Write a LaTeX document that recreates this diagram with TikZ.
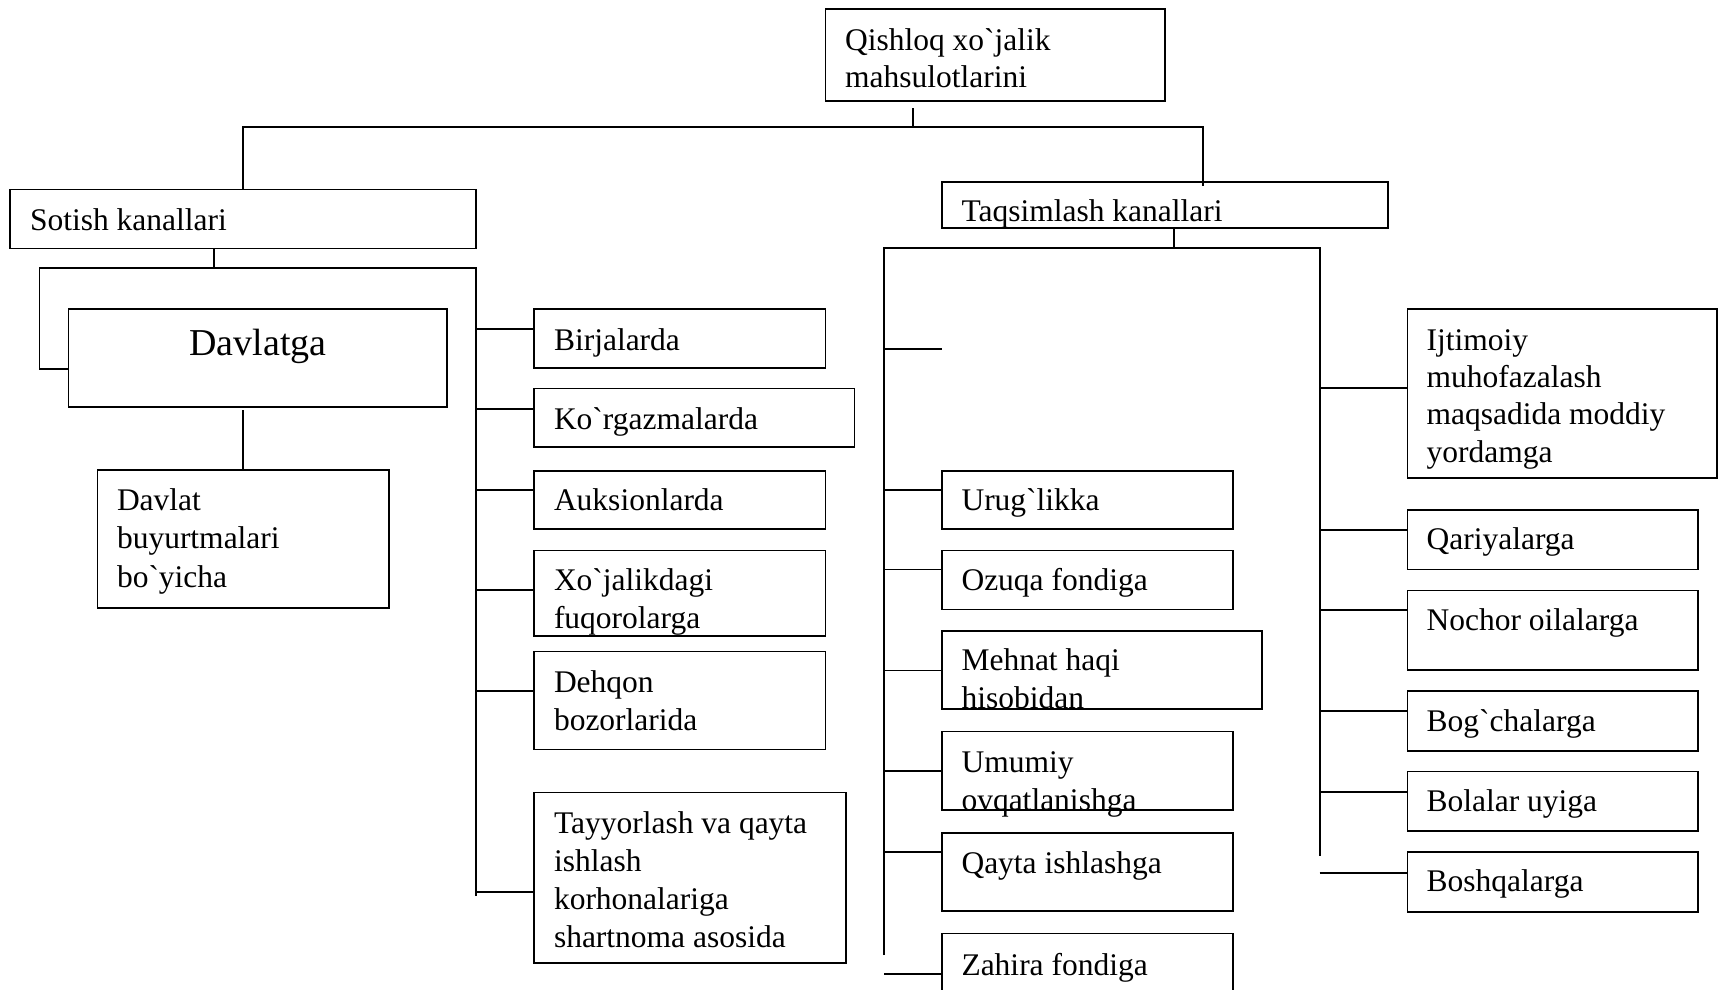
\documentclass[tikz,border=0pt]{standalone}
\usepackage{fontspec}
\setmainfont{Liberation Serif}[Ligatures=TeXOff]
\usetikzlibrary{calc}
\newcommand\mylines[1]{\begin{tabular}[t]{@{}l@{}}#1\end{tabular}}
\newcommand\stub[3]{\draw[link] (#1 |- 0,#3) -- (#2.west |- 0,#3);}
\begin{document}
\begin{tikzpicture}[x=1pt,y=-1pt,
  box/.style={draw, line width=1.6pt, inner sep=0pt, outer sep=0pt, anchor=north west},
  txt/.style={inner sep=0pt, outer sep=0pt, anchor=base west, font=\fontsize{31.5}{38.2}\selectfont},
  txtw/.style={inner sep=0pt, outer sep=0pt, anchor=base west, font=\fontsize{31.5}{37.4}\selectfont},
  link/.style={line width=1.8pt}]
\fill[white] (0,0) rectangle (1721,989);
\useasboundingbox (0,0) rectangle (1721,989);
\begin{scope}
\clip (0,0) rectangle (1721,989);
% boxes
\node[box, minimum width=339.6pt, minimum height=91.7pt] (top) at (825.4,9) {};
\node[box, minimum width=466pt, minimum height=59pt] (sotish) at (10,189.3) {};
\node[box, minimum width=446.3pt, minimum height=46.3pt] (taqs) at (941.7,181.7) {};
\node[box, minimum width=378.4pt, minimum height=98pt] (davlatga) at (68.6,309) {};
\node[box, minimum width=291.3pt, minimum height=137.9pt] (davlat) at (97.6,470.1) {};
\node[box, minimum width=291.4pt, minimum height=58.7pt] (birj) at (534,309) {};
\node[box, minimum width=320.5pt, minimum height=58.9pt] (korg) at (534,388.3) {};
\node[box, minimum width=291.4pt, minimum height=58.1pt] (auks) at (534,470.8) {};
\node[box, minimum width=291.4pt, minimum height=85.3pt] (xoj) at (534,550.6) {};
\node[box, minimum width=291.4pt, minimum height=98pt] (dehq) at (534,651.5) {};
\node[box, minimum width=311.7pt, minimum height=170.4pt] (tayy) at (534,792.3) {};
\node[box, minimum width=291.3pt, minimum height=58.1pt] (urug) at (941.7,470.8) {};
\node[box, minimum width=291.3pt, minimum height=58.8pt] (ozuq) at (941.7,550.6) {};
\node[box, minimum width=320.3pt, minimum height=78pt] (mehn) at (941.7,631.2) {};
\node[box, minimum width=291.3pt, minimum height=78.8pt] (umum) at (941.7,731.3) {};
\node[box, minimum width=291.3pt, minimum height=78pt] (qayt) at (941.7,832.7) {};
\node[box, minimum width=291.3pt, minimum height=90pt] (zahi) at (941.7,933.3) {};
\node[box, minimum width=309.6pt, minimum height=169.1pt] (ijti) at (1407.4,309) {};
\node[box, minimum width=290.6pt, minimum height=59.5pt] (qari) at (1407.4,510) {};
\node[box, minimum width=290.6pt, minimum height=79.1pt] (noch) at (1407.4,590.6) {};
\node[box, minimum width=290.6pt, minimum height=60.2pt] (bogc) at (1407.4,690.7) {};
\node[box, minimum width=290.6pt, minimum height=59.5pt] (bola) at (1407.4,771.3) {};
\node[box, minimum width=290.6pt, minimum height=59.9pt] (bosh) at (1407.4,851.8) {};
% texts
\node[txtw] (top-t) at (845,50) {\mylines{Qishloq xo`jalik\\mahsulotlarini}};
\node[txt] (sotish-t) at (30,230) {Sotish kanallari};
\node[txt] (taqs-t) at (961.5,221.7) {Taqsimlash kanallari};
\node[inner sep=0pt, anchor=base, font=\fontsize{38}{44}\selectfont] (davlatga-t) at (258,355) {Davlatga};
\node[txt] (davlat-t) at (117,510.7) {\mylines{Davlat\\buyurtmalari\\bo`yicha}};
\node[txt] (birj-t) at (554,350) {Birjalarda};
\node[txt] (korg-t) at (554,429) {Ko`rgazmalarda};
\node[txt] (auks-t) at (554,510.7) {Auksionlarda};
\node[txt] (xoj-t) at (554,590.6) {\mylines{Xo`jalikdagi\\fuqorolarga}};
\node[txt] (dehq-t) at (554,692.2) {\mylines{Dehqon\\bozorlarida}};
\node[txt] (tayy-t) at (554,833.3) {\mylines{Tayyorlash va qayta\\ishlash\\korhonalariga\\shartnoma asosida}};
\node[txt] (urug-t) at (961.5,510) {Urug`likka};
\node[txt] (ozuq-t) at (961.5,590.6) {Ozuqa fondiga};
\node[txt] (mehn-t) at (961.5,670.4) {\mylines{Mehnat haqi\\hisobidan}};
\node[txt] (umum-t) at (961.5,772) {\mylines{Umumiy\\ovqatlanishga}};
\node[txt] (qayt-t) at (961.5,873.3) {Qayta ishlashga};
\node[txt] (zahi-t) at (961.5,975) {Zahira fondiga};
\node[txtw] (ijti-t) at (1426.6,350) {\mylines{Ijtimoiy\\muhofazalash\\maqsadida moddiy\\yordamga}};
\node[txt] (qari-t) at (1426.6,549.9) {Qariyalarga};
\node[txt] (noch-t) at (1426.6,630.5) {Nochor oilalarga};
\node[txt] (bogc-t) at (1426.6,731.4) {Bog`chalarga};
\node[txt] (bola-t) at (1426.6,811.9) {Bolalar uyiga};
\node[txt] (bosh-t) at (1426.6,891.7) {Boshqalarga};
% connectors: top level
\coordinate (s0) at (912.7,108);
\coordinate (b1R) at (1203,127.3);
\coordinate (r1) at (1203,186);
\draw[link] (s0) -- (s0 |- b1R);
\draw[link] (sotish.north) |- (b1R) -- (r1);
% sotish branch
\coordinate (sb) at (214,268);
\coordinate (sbL) at (39.5,268);
\coordinate (sbR) at (476,268);
\coordinate (sbE) at (476,896.1);
\draw[link] (sotish.south -| sb) -- (sb);
\draw[link] (sbE) -- (sbR) -- (sbL) |- ($(davlatga.west)+(0,11)$);
\draw[link] ($(davlatga.south -| davlat.north)+(0,3)$) -- (davlat.north);
\stub{sbR}{birj}{329}
\stub{sbR}{korg}{409}
\stub{sbR}{auks}{489.7}
\stub{sbR}{xoj}{590.2}
\stub{sbR}{dehq}{691.1}
\stub{sbR}{tayy}{891.7}
% taqsimlash branch
\coordinate (tb) at (1174,248);
\coordinate (tbL) at (884,248);
\coordinate (tbR) at (1319.6,248);
\coordinate (tbLE) at (884,955);
\coordinate (tbRE) at (1319.6,855.5);
\coordinate (emp) at (941.7,349);
\draw[link] (taqs.south -| tb) -- (tb);
\draw[link] (tbLE) -- (tbL) -- (tbR) -- (tbRE);
\draw[link] (tbL |- emp) -- (emp);
\stub{tbL}{urug}{489.7}
\stub{tbL}{ozuq}{569.5}
\stub{tbL}{mehn}{670.4}
\stub{tbL}{umum}{771.3}
\stub{tbL}{qayt}{851.8}
\stub{tbL}{zahi}{974}
\stub{tbR}{ijti}{388.3}
\stub{tbR}{qari}{529.6}
\stub{tbR}{noch}{610.2}
\stub{tbR}{bogc}{710.7}
\stub{tbR}{bola}{792}
\stub{tbR}{bosh}{872.9}
\end{scope}
\end{tikzpicture}
\end{document}
